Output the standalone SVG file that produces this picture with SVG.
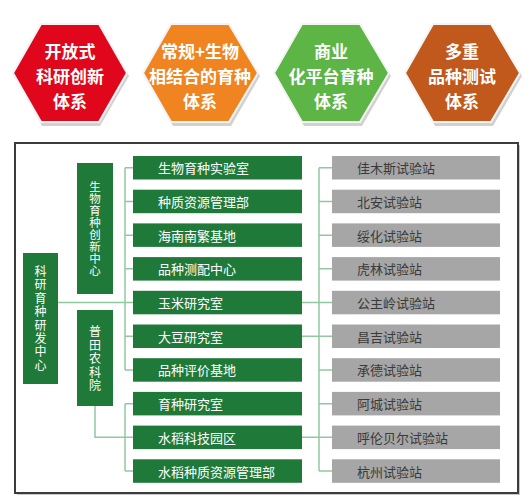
<svg xmlns="http://www.w3.org/2000/svg" width="530" height="499" viewBox="0 0 530 499">
<defs>
<style>
.hex{stroke:#f4f4f4;stroke-width:2}
.hshadow{fill:#000;opacity:0.18}
.ht{font-family:"Noto Sans CJK SC","Noto Sans",sans-serif;font-size:17px;font-weight:bold;fill:#fff;text-anchor:middle;dominant-baseline:central}
.gb{fill:#1f7a3a}
.yb{fill:#a6a6a6}
.bt{font-family:"Noto Sans CJK SC","Noto Sans",sans-serif;font-size:13px;fill:#fff;dominant-baseline:central}
.yt{font-family:"Noto Sans CJK SC","Noto Sans",sans-serif;font-size:13px;fill:#3a3a3a;dominant-baseline:central}
.vt{font-family:"Noto Sans CJK SC","Noto Sans",sans-serif;fill:#fff;text-anchor:middle;writing-mode:vertical-rl}
.ln{fill:none;stroke:#92c8a0;stroke-width:1.5}
</style>
</defs>
<rect width="530" height="499" fill="#fff"/>

<g id="hex1">
<polygon class="hshadow" points="15,76 42,27 100,27 129,76 100,126 42,126"/>
<polygon class="hex" fill="#e0061b" points="13,73 41,24 99,24 127,73 99,122 41,122"/>
<text class="ht" x="70" y="50">开放式</text>
<text class="ht" x="70" y="75">科研创新</text>
<text class="ht" x="70" y="100">体系</text>
</g>
<g id="hex2">
<polygon class="hshadow" points="145,76 173,27 231,27 260,76 231,126 173,126"/>
<polygon class="hex" fill="#ef8420" points="143,73 171,24 229,24 258,73 229,122 171,122"/>
<text class="ht" x="200" y="50">常规+生物</text>
<text class="ht" x="200" y="75">相结合的育种</text>
<text class="ht" x="200" y="100">体系</text>
</g>
<g id="hex3">
<polygon class="hshadow" points="276,76 304,27 362,27 391,76 362,126 304,126"/>
<polygon class="hex" fill="#5db545" points="274,73 302,24 360,24 389,73 360,122 302,122"/>
<text class="ht" x="331" y="50">商业</text>
<text class="ht" x="331" y="75">化平台育种</text>
<text class="ht" x="331" y="100">体系</text>
</g>
<g id="hex4">
<polygon class="hshadow" points="407,76 435,27 493,27 522,76 493,126 435,126"/>
<polygon class="hex" fill="#c1581c" points="405,73 433,24 491,24 520,73 491,122 433,122"/>
<text class="ht" x="462" y="50">多重</text>
<text class="ht" x="462" y="75">品种测试</text>
<text class="ht" x="462" y="100">体系</text>
</g>

<g id="frame">
<rect x="17" y="145" width="503" height="350" fill="#c8c8c8"/>
<rect x="15" y="143" width="503" height="350" fill="#fff" stroke="#3c3c3c" stroke-width="2"/>
</g>

<g id="connectors">
<path class="ln" d="M58,302.5 H133"/>
<path class="ln" d="M125,167.75 V369.95 M125,167.75 H133 M125,201.45 H133 M125,235.15 H133 M125,268.85 H133 M125,336.25 H133 M125,369.95 H133"/>
<path class="ln" d="M95,406 V437.35 H133"/>
<path class="ln" d="M125,403.65 V471.05 M125,403.65 H133 M125,471.05 H133"/>
<path class="ln" d="M319,167.75 V471.05"/>
<path class="ln" d="M319,167.75 H332 M319,201.45 H332 M319,235.15 H332 M319,268.85 H332 M319,302.55 H332 M319,336.25 H332 M319,369.95 H332 M319,403.65 H332 M319,437.35 H332 M319,471.05 H332"/>
<path class="ln" d="M302,302.55 H319 M302,336.25 H319 M302,437.35 H319"/>
</g>

<g id="n-keyan">
<rect class="gb" x="23" y="253" width="35" height="131"/>
<text class="vt" x="40.5" y="319" style="font-size:12px;letter-spacing:1.4px">科研育种研发中心</text>
</g>
<g id="n-shengwu">
<rect class="gb" x="77" y="163" width="36" height="131"/>
<text class="vt" x="95" y="228.5" style="font-size:11.5px;letter-spacing:0.5px">生物育种创新中心</text>
</g>
<g id="n-putian">
<rect class="gb" x="77" y="310" width="36" height="96"/>
<text class="vt" x="95" y="359.5" style="font-size:12px;letter-spacing:1.5px">普田农科院</text>
</g>

<g id="m1"><rect class="gb" x="133" y="156" width="169" height="23.5"/><text class="bt" x="158" y="167.75">生物育种实验室</text></g>
<g id="m2"><rect class="gb" x="133" y="189.7" width="169" height="23.5"/><text class="bt" x="158" y="201.45">种质资源管理部</text></g>
<g id="m3"><rect class="gb" x="133" y="223.4" width="169" height="23.5"/><text class="bt" x="158" y="235.15">海南南繁基地</text></g>
<g id="m4"><rect class="gb" x="133" y="257.1" width="169" height="23.5"/><text class="bt" x="158" y="268.85">品种测配中心</text></g>
<g id="m5"><rect class="gb" x="133" y="290.8" width="169" height="23.5"/><text class="bt" x="158" y="302.55">玉米研究室</text></g>
<g id="m6"><rect class="gb" x="133" y="324.5" width="169" height="23.5"/><text class="bt" x="158" y="336.25">大豆研究室</text></g>
<g id="m7"><rect class="gb" x="133" y="358.2" width="169" height="23.5"/><text class="bt" x="158" y="369.95">品种评价基地</text></g>
<g id="m8"><rect class="gb" x="133" y="391.9" width="169" height="23.5"/><text class="bt" x="158" y="403.65">育种研究室</text></g>
<g id="m9"><rect class="gb" x="133" y="425.6" width="169" height="23.5"/><text class="bt" x="158" y="437.35">水稻科技园区</text></g>
<g id="m10"><rect class="gb" x="133" y="459.3" width="169" height="23.5"/><text class="bt" x="158" y="471.05">水稻种质资源管理部</text></g>

<g id="s1"><rect class="yb" x="332" y="156" width="168" height="23.5"/><text class="yt" x="357" y="167.75">佳木斯试验站</text></g>
<g id="s2"><rect class="yb" x="332" y="189.7" width="168" height="23.5"/><text class="yt" x="357" y="201.45">北安试验站</text></g>
<g id="s3"><rect class="yb" x="332" y="223.4" width="168" height="23.5"/><text class="yt" x="357" y="235.15">绥化试验站</text></g>
<g id="s4"><rect class="yb" x="332" y="257.1" width="168" height="23.5"/><text class="yt" x="357" y="268.85">虎林试验站</text></g>
<g id="s5"><rect class="yb" x="332" y="290.8" width="168" height="23.5"/><text class="yt" x="357" y="302.55">公主岭试验站</text></g>
<g id="s6"><rect class="yb" x="332" y="324.5" width="168" height="23.5"/><text class="yt" x="357" y="336.25">昌吉试验站</text></g>
<g id="s7"><rect class="yb" x="332" y="358.2" width="168" height="23.5"/><text class="yt" x="357" y="369.95">承德试验站</text></g>
<g id="s8"><rect class="yb" x="332" y="391.9" width="168" height="23.5"/><text class="yt" x="357" y="403.65">阿城试验站</text></g>
<g id="s9"><rect class="yb" x="332" y="425.6" width="168" height="23.5"/><text class="yt" x="357" y="437.35">呼伦贝尔试验站</text></g>
<g id="s10"><rect class="yb" x="332" y="459.3" width="168" height="23.5"/><text class="yt" x="357" y="471.05">杭州试验站</text></g>
</svg>
